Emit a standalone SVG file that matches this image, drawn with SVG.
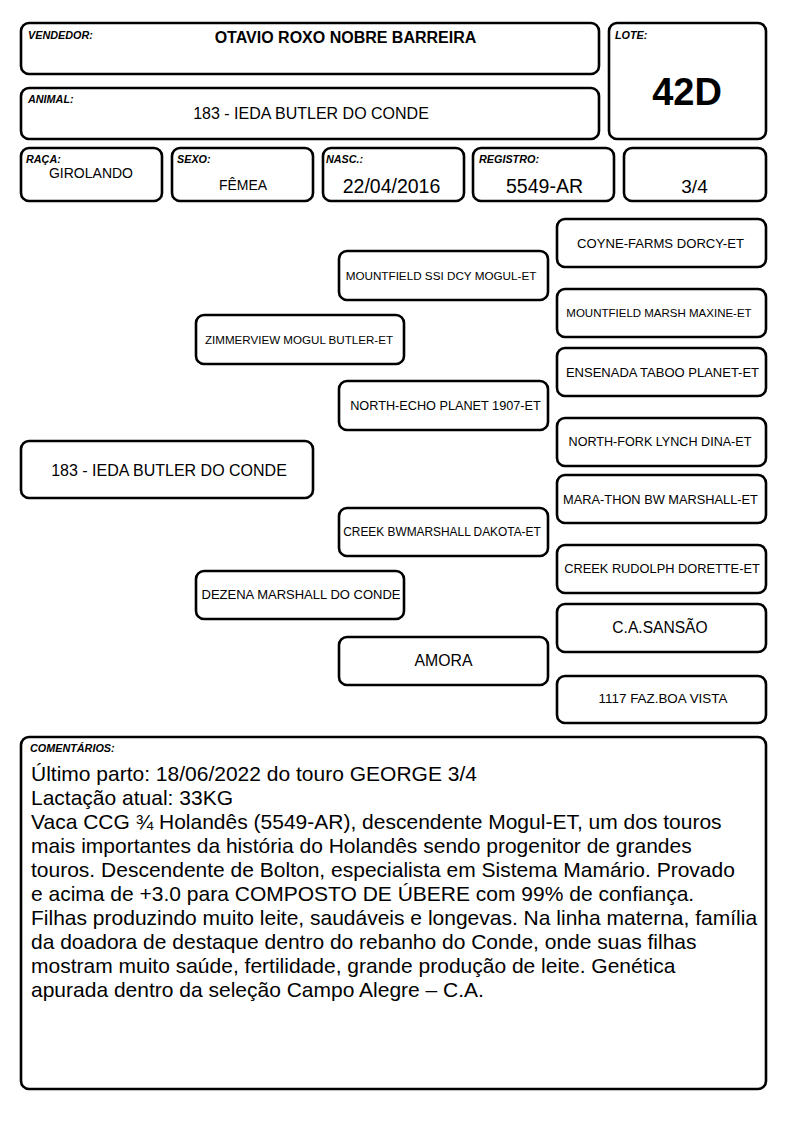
<svg xmlns="http://www.w3.org/2000/svg" width="794" height="1123" viewBox="0 0 794 1123">
<style>
.b{fill:#fff;stroke:#000;stroke-width:2.6}
.lab{font-family:"Liberation Sans",Arial,sans-serif;font-size:10.8px;font-weight:bold;font-style:italic;fill:#000}
.t{font-family:"Liberation Sans",Arial,sans-serif;fill:#000;text-anchor:middle}
.c{font-family:"Liberation Sans",Arial,sans-serif;font-size:21px;fill:#000}
</style>
<rect width="794" height="1123" fill="#fff"/>
<g id="vendedor"><rect class="b" x="21" y="23" width="578" height="51" rx="8"/><text class="lab" x="28" y="39">VENDEDOR:</text><text class="t" x="345.5" y="43" font-size="16" font-weight="bold">OTAVIO ROXO NOBRE BARREIRA</text></g>
<g id="lote"><rect class="b" x="609" y="23" width="157" height="116" rx="8"/><text class="lab" x="615" y="39">LOTE:</text><text class="t" x="687" y="105" font-size="38" font-weight="bold">42D</text></g>
<g id="animal"><rect class="b" x="21" y="88" width="578" height="51" rx="8"/><text class="lab" x="28" y="103">ANIMAL:</text><text class="t" x="311" y="119" font-size="16">183 - IEDA BUTLER DO CONDE</text></g>
<g id="raca"><rect class="b" x="21" y="148" width="141" height="53" rx="8"/><text class="lab" x="26" y="163">RAÇA:</text><text class="t" x="91" y="178" font-size="14">GIROLANDO</text></g>
<g id="sexo"><rect class="b" x="172" y="148" width="141" height="53" rx="8"/><text class="lab" x="177" y="163">SEXO:</text><text class="t" x="243" y="190" font-size="14">FÊMEA</text></g>
<g id="nasc"><rect class="b" x="323" y="148" width="141" height="53" rx="8"/><text class="lab" x="326" y="163">NASC.:</text><text class="t" x="391.5" y="193" font-size="19.5">22/04/2016</text></g>
<g id="registro"><rect class="b" x="473" y="148" width="141" height="53" rx="8"/><text class="lab" x="479" y="163">REGISTRO:</text><text class="t" x="544.5" y="193" font-size="19.5">5549-AR</text></g>
<g id="grau"><rect class="b" x="624" y="148" width="142" height="53" rx="8"/><text class="t" x="694.5" y="193" font-size="19">3/4</text></g>

<g id="connectors"></g>

<g id="p-main"><rect class="b" x="21" y="441" width="292" height="57" rx="8"/><text class="t" x="169" y="476" font-size="16">183 - IEDA BUTLER DO CONDE</text></g>
<g id="p-sire"><rect class="b" x="196" y="315" width="208" height="49" rx="8"/><text class="t" x="299" y="344" font-size="11.6">ZIMMERVIEW MOGUL BUTLER-ET</text></g>
<g id="p-dam"><rect class="b" x="196" y="571" width="208" height="48" rx="8"/><text class="t" x="301" y="599" font-size="13">DEZENA MARSHALL DO CONDE</text></g>
<g id="p-ss"><rect class="b" x="339" y="251" width="209" height="49" rx="8"/><text class="t" x="441" y="280" font-size="11.7">MOUNTFIELD SSI DCY MOGUL-ET</text></g>
<g id="p-sd"><rect class="b" x="339" y="381" width="209" height="49" rx="8"/><text class="t" x="445.5" y="410" font-size="12.7">NORTH-ECHO PLANET 1907-ET</text></g>
<g id="p-ds"><rect class="b" x="339" y="508" width="209" height="48" rx="8"/><text class="t" x="442" y="536" font-size="11.9">CREEK BWMARSHALL DAKOTA-ET</text></g>
<g id="p-dd"><rect class="b" x="339" y="637" width="209" height="48" rx="8"/><text class="t" x="443.5" y="666" font-size="15.8">AMORA</text></g>
<g id="p-sss"><rect class="b" x="557" y="219" width="209" height="48" rx="8"/><text class="t" x="660.5" y="248" font-size="13.1">COYNE-FARMS DORCY-ET</text></g>
<g id="p-ssd"><rect class="b" x="557" y="289" width="209" height="48" rx="8"/><text class="t" x="659" y="317" font-size="11.5">MOUNTFIELD MARSH MAXINE-ET</text></g>
<g id="p-sds"><rect class="b" x="557" y="348" width="209" height="48" rx="8"/><text class="t" x="662.5" y="377" font-size="13">ENSENADA TABOO PLANET-ET</text></g>
<g id="p-sdd"><rect class="b" x="557" y="418" width="209" height="48" rx="8"/><text class="t" x="660" y="446" font-size="12.6">NORTH-FORK LYNCH DINA-ET</text></g>
<g id="p-dss"><rect class="b" x="557" y="475" width="209" height="48" rx="8"/><text class="t" x="660.5" y="504" font-size="12.8">MARA-THON BW MARSHALL-ET</text></g>
<g id="p-dsd"><rect class="b" x="557" y="545" width="209" height="48" rx="8"/><text class="t" x="662" y="573" font-size="12.8">CREEK RUDOLPH DORETTE-ET</text></g>
<g id="p-dds"><rect class="b" x="557" y="604" width="209" height="48" rx="8"/><text class="t" x="660" y="633" font-size="15.6">C.A.SANSÃO</text></g>
<g id="p-ddd"><rect class="b" x="557" y="676" width="209" height="47" rx="8"/><text class="t" x="663" y="703" font-size="13.4">1117 FAZ.BOA VISTA</text></g>

<g id="comentarios"><rect class="b" x="21" y="737" width="745" height="352" rx="8"/><text class="lab" x="30" y="752">COMENTÁRIOS:</text>
<text class="c" x="31" y="781">Último parto: 18/06/2022 do touro GEORGE 3/4</text>
<text class="c" x="31" y="805">Lactação atual: 33KG</text>
<text class="c" x="31" y="829">Vaca CCG ¾ Holandês (5549-AR), descendente Mogul-ET, um dos touros</text>
<text class="c" x="31" y="853">mais importantes da história do Holandês sendo progenitor de grandes</text>
<text class="c" x="31" y="877">touros. Descendente de Bolton, especialista em Sistema Mamário. Provado</text>
<text class="c" x="31" y="901">e acima de +3.0 para COMPOSTO DE ÚBERE com 99% de confiança.</text>
<text class="c" x="31" y="925">Filhas produzindo muito leite, saudáveis e longevas. Na linha materna, família</text>
<text class="c" x="31" y="949">da doadora de destaque dentro do rebanho do Conde, onde suas filhas</text>
<text class="c" x="31" y="973">mostram muito saúde, fertilidade, grande produção de leite. Genética</text>
<text class="c" x="31" y="997">apurada dentro da seleção Campo Alegre – C.A.</text>
</g>
</svg>
